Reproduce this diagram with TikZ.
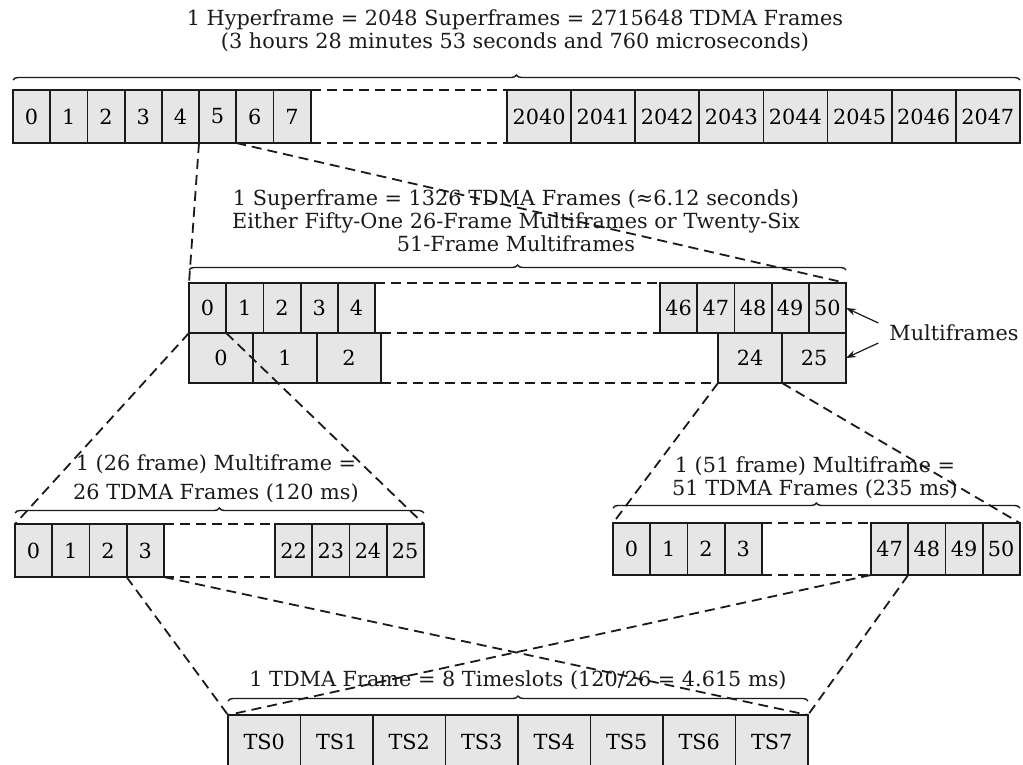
\documentclass[tikz,border=0pt]{standalone}
\usepackage{fontspec}
\setmainfont{DejaVu Serif}
\definecolor{gsmInk}{HTML}{1A1A1A}
\definecolor{gsmDot}{HTML}{E6E6E6}
\usetikzlibrary{arrows.meta,calc,decorations.pathreplacing}

\begin{document}
\begin{tikzpicture}[
  x=0.5pt,y=-0.5pt,
  font=\fontsize{10.4}{11.6}\selectfont,
  cell/.style={draw=gsmInk,line width=0.9pt,fill=gsmDot,anchor=north west,
               minimum width=18.6pt,minimum height=26pt,inner sep=0pt,outer sep=0pt},
  wide/.style={cell,minimum width=32pt},
  slot/.style={cell,minimum width=36.25pt,minimum height=27pt},
  gap/.style={draw=gsmInk,line width=0.9pt,dash pattern=on 5pt off 3pt},
  brc/.style={draw=gsmInk,line width=0.7pt,decorate,decoration={brace,amplitude=2.5pt}},
  lbl/.style={align=center,text=gsmInk},
  >={Stealth[length=5pt,width=3.5pt]}
]
\useasboundingbox (0,0) rectangle (1023,765);
% hyperframe
\foreach \i in {0,...,7}
  \node[cell,minimum height=26.5pt] (h\i) at ({13+37.2*\i},90) {\i};
\foreach \i [count=\k from 0] in {2040,...,2047}
  \node[wide,minimum height=26.5pt,minimum width=32.05pt] (h\i) at ({507+64.1*\k},90) {\i};
\draw[gap] (h7.north east) -- (h2040.north west);
\draw[gap] (h7.south east) -- (h2040.south west);
\draw[brc] ($(h0.north west)+(0,5pt)$) -- ($(h2047.north east)+(0,5pt)$);
\node[lbl] (hyperlbl) at (515,31)
  {1 Hyperframe = 2048 Superframes = 2715648 TDMA Frames\\
   (3 hours 28 minutes 53 seconds and 760 microseconds)};
% superframe
\foreach \i in {0,...,4}
  \node[cell,minimum height=25pt] (u\i) at ({189+37.2*\i},283) {\i};
\foreach \i [count=\k from 0] in {46,...,50}
  \node[cell,minimum height=25pt] (u\i) at ({660+37.2*\k},283) {\i};
\foreach \i in {0,...,2}
  \node[wide,minimum height=25pt] (w\i) at ({189+64*\i},333) {\i};
\foreach \i [count=\k from 0] in {24,25}
  \node[wide,minimum height=25pt] (w\i) at ({718+64*\k},333) {\i};
\draw[gap] (u4.north east) -- (u46.north west);
\draw[gap] (w2.north east) -- (u46.south west);
\draw[gap] (w2.south east) -- (w24.south west);
\draw[brc] ($(u0.north west)+(0,6.5pt)$) -- ($(u50.north east)+(0,6.5pt)$);
\node[lbl] (superlbl) at (516,221)
  {1 Superframe = 1326 TDMA Frames (≈6.12 seconds)\\
   Either Fifty-One 26-Frame Multiframes or Twenty-Six\\
   51-Frame Multiframes};
\node[lbl] (mflbl) at (954,333) {Multiframes};
\draw[->,gsmInk,line width=0.6pt] ([xshift=-2pt,yshift=5pt]mflbl.west) -- (u50.east);
\draw[->,gsmInk,line width=0.6pt] ([xshift=-2pt,yshift=-5pt]mflbl.west) -- (w25.east);
\draw[gap] (h5.south west) -- (u0.north west);
\draw[gap] (h5.south east) -- (u50.north east);
% 26 frame multiframe
\foreach \i in {0,...,3}
  \node[cell,minimum height=26.5pt] (a\i) at ({15+37.2*\i},524) {\i};
\foreach \i [count=\k from 0] in {22,...,25}
  \node[cell,minimum height=26.5pt] (a\i) at ({275+37.2*\k},524) {\i};
\draw[gap] (a3.north east) -- (a22.north west);
\draw[gap] (a3.south east) -- (a22.south west);
\draw[brc] ($(a0.north west)+(0,5.5pt)$) -- ($(a25.north east)+(0,5.5pt)$);
\node[lbl] (mfalbl) at (216,479)
  {1 (26 frame) Multiframe =\\[3pt]
   26 TDMA Frames (120 ms)};
\draw[gap] (u0.south west) -- (a0.north west);
\draw[gap] (u0.south east) -- (a25.north east);
% 51 frame multiframe
\foreach \i in {0,...,3}
  \node[cell] (b\i) at ({613+37.2*\i},523) {\i};
\foreach \i [count=\k from 0] in {47,...,50}
  \node[cell] (b\i) at ({871+37.2*\k},523) {\i};
\draw[gap] (b3.north east) -- (b47.north west);
\draw[gap] (b3.south east) -- (b47.south west);
\draw[brc] ($(b0.north west)+(0,7.5pt)$) -- ($(b50.north east)+(0,7.5pt)$);
\node[lbl] (mfblbl) at (815,478)
  {1 (51 frame) Multiframe =\\
   51 TDMA Frames (235 ms)};
\draw[gap] (w24.south west) -- (b0.north west);
\draw[gap] (w24.south east) -- (b50.north east);
% tdma frame
\foreach \i in {0,...,7}
  \node[slot] (ts\i) at ({228+72.5*\i},715) {TS\i};
\draw[brc] ($(ts0.north west)+(0,7pt)$) -- ($(ts7.north east)+(0,7pt)$);
\node[lbl] (tdmalbl) at (518,680)
  {1 TDMA Frame = 8 Timeslots (120/26 = 4.615 ms)};
\draw[gap] (a3.south west) -- (ts0.north west);
\draw[gap] (a3.south east) -- (ts7.north east);
\draw[gap] (b47.south west) -- (ts0.north west);
\draw[gap] (b47.south east) -- (ts7.north east);
\end{tikzpicture}
\end{document}
